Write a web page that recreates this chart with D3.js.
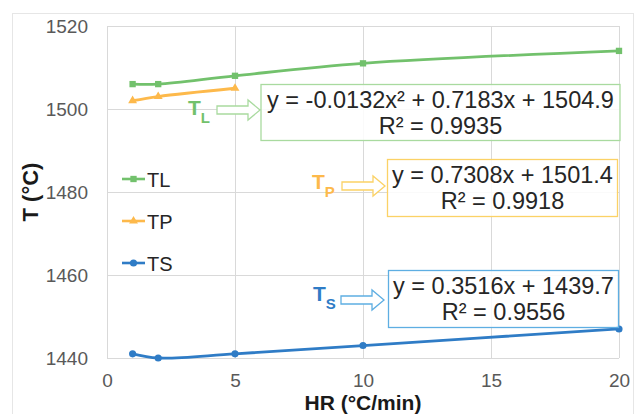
<!DOCTYPE html>
<html>
<head>
<meta charset="utf-8">
<script src="https://cdn.jsdelivr.net/npm/d3@7"></script>
<style>
  body { margin: 0; background: #fff; }
  svg { font-family: "Liberation Sans", Arial, sans-serif; }
</style>
</head>
<body>
<div id="chart"></div>
<script>
// heating rates (°C/min)
const hrAll = [1, 2, 5, 10, 20];
const hrTP = [1, 2, 5];

// temperatures
const tlValues = [1506, 1506, 1508, 1511, 1514];
const tpValues = [1502, 1503, 1505];
const tsValues = [1441, 1440, 1441, 1443, 1447];

const xTicks = [0, 5, 10, 15, 20];
const yTicks = [1440, 1460, 1480, 1500, 1520];

const seriesNames = ['TL', 'TP', 'TS'];
const seriesColors = ['#72c16c', '#fdb94b', '#2f7cc6'];
const boxColors = ['#a9da9f', '#fbd266', '#5eaee2'];

const fits = [
  ['y = -0.0132x² + 0.7183x + 1504.9', 'R² = 0.9935'],
  ['y = 0.7308x + 1501.4', 'R² = 0.9918'],
  ['y = 0.3516x + 1439.7', 'R² = 0.9556'],
];
const fitSubs = ['L', 'P', 'S'];

const width = 634;
const height = 414;
const margin = { top: 26, right: 15, bottom: 56, left: 107 };

const svg = d3
  .select('#chart')
  .append('svg')
  .attr('width', width)
  .attr('height', height);

// chart area frame
svg
  .append('rect')
  .attr('x', 12.5)
  .attr('y', 13.5)
  .attr('width', width - 13)
  .attr('height', height - 13)
  .attr('fill', 'none')
  .attr('stroke', '#e6e6e6');

const x = d3.scaleLinear().domain([0, 20]).range([margin.left, width - margin.right]);
const y = d3.scaleLinear().domain([1440, 1520]).range([height - margin.bottom, margin.top]);

// grid
const grid = svg.append('g').attr('stroke', '#d9d9d9').attr('stroke-width', 1);
grid
  .selectAll('line.h')
  .data(yTicks)
  .enter()
  .append('line')
  .attr('x1', x(0))
  .attr('x2', x(20))
  .attr('y1', (d) => Math.round(y(d)) + 0.5)
  .attr('y2', (d) => Math.round(y(d)) + 0.5);
grid
  .selectAll('line.v')
  .data(xTicks)
  .enter()
  .append('line')
  .attr('y1', y(1520))
  .attr('y2', y(1440))
  .attr('x1', (d) => Math.round(x(d)) + 0.5)
  .attr('x2', (d) => Math.round(x(d)) + 0.5);

// axes (labels only, Excel style)
const xAxis = svg
  .append('g')
  .attr('transform', `translate(0,${y(1440)})`)
  .call(d3.axisBottom(x).tickValues(xTicks).tickSize(0).tickPadding(16));
const yAxis = svg
  .append('g')
  .attr('transform', `translate(${x(0)},0)`)
  .call(d3.axisLeft(y).tickValues(yTicks).tickSize(0).tickPadding(19).tickFormat(d3.format('d')));
[xAxis, yAxis].forEach((a) => {
  a.select('.domain').remove();
  a.selectAll('text')
    .attr('font-family', '"Liberation Sans", Arial, sans-serif')
    .attr('font-size', '19px')
    .attr('fill', '#595959');
});
yAxis.selectAll('text').attr('dy', '0.34em');

// axis titles
svg
  .append('text')
  .attr('x', (x(0) + x(20)) / 2)
  .attr('y', 410)
  .attr('text-anchor', 'middle')
  .attr('font-size', '21px')
  .attr('font-weight', 'bold')
  .attr('fill', '#1a1a1a')
  .text('HR (°C/min)');
svg
  .append('text')
  .attr('transform', `translate(38,${(y(1440) + y(1520)) / 2}) rotate(-90)`)
  .attr('text-anchor', 'middle')
  .attr('font-size', '22px')
  .attr('font-weight', 'bold')
  .attr('fill', '#1a1a1a')
  .text('T (°C)');

// series
const series = [
  { name: seriesNames[0], xs: hrAll, ys: tlValues, color: seriesColors[0], marker: d3.symbolSquare, size: 40 },
  { name: seriesNames[1], xs: hrTP, ys: tpValues, color: seriesColors[1], marker: d3.symbolTriangle, size: 34 },
  { name: seriesNames[2], xs: hrAll, ys: tsValues, color: seriesColors[2], marker: d3.symbolCircle, size: 40 },
];

const line = d3
  .line()
  .x((d) => x(d[0]))
  .y((d) => y(d[1]))
  .curve(d3.curveCatmullRom.alpha(0.5));

series.forEach((s) => {
  const pts = s.xs.map((v, i) => [v, s.ys[i]]);
  const g = svg.append('g');
  g.append('path')
    .datum(pts)
    .attr('d', line)
    .attr('fill', 'none')
    .attr('stroke', s.color)
    .attr('stroke-width', 2.8);
  g.selectAll('path.m')
    .data(pts)
    .enter()
    .append('path')
    .attr('d', d3.symbol().type(s.marker).size(s.size))
    .attr('transform', (d) => `translate(${x(d[0])},${y(d[1])})`)
    .attr('fill', s.color);
});

// legend
const legend = svg.append('g');
const legendRows = [179, 221, 263];
series.forEach((s, i) => {
  const row = legend.append('g').attr('transform', `translate(122,${legendRows[i]})`);
  row.append('line').attr('x1', 0).attr('x2', 23).attr('stroke', s.color).attr('stroke-width', 2.6);
  row.append('path').attr('d', d3.symbol().type(s.marker).size(s.size)).attr('transform', 'translate(11.5,0)').attr('fill', s.color);
  row
    .append('text')
    .attr('x', 25)
    .attr('y', 8)
    .attr('font-size', '20px')
    .attr('fill', '#262626')
    .text(s.name);
});

// trend equation callouts
const boxes = [
  { x: 261, y: 84.5, w: 359, h: 56, label: [188, 115], arrow: [217, 110] },
  { x: 387.5, y: 159.5, w: 230, h: 57, label: [312, 189], arrow: [342, 186] },
  { x: 388.5, y: 270.5, w: 230, h: 57, label: [313, 301], arrow: [341, 300] },
];

boxes.forEach((b, i) => {
  const c = seriesColors[i];
  const bc = boxColors[i];
  const g = svg.append('g');
  g.append('rect')
    .attr('x', b.x)
    .attr('y', b.y)
    .attr('width', b.w)
    .attr('height', b.h)
    .attr('fill', '#fff')
    .attr('fill-opacity', 0.85)
    .attr('stroke', bc)
    .attr('stroke-width', 1.3);
  fits[i].forEach((t, k) => {
    g.append('text')
      .attr('x', b.x + b.w / 2)
      .attr('y', b.y + 23 + k * 26.5)
      .attr('text-anchor', 'middle')
      .attr('font-size', '23.5px')
      .attr('fill', '#262626')
      .text(t);
  });

  // T with subscript
  const lab = g
    .append('text')
    .attr('x', b.label[0])
    .attr('y', b.label[1])
    .attr('font-weight', 'bold')
    .attr('fill', c);
  lab.append('tspan').attr('font-size', '21px').text('T');
  lab.append('tspan').attr('font-size', '15px').attr('dy', 8).text(fitSubs[i]);

  // hollow block arrow
  const ax = b.arrow[0];
  const ay = b.arrow[1];
  const p = d3.path();
  p.moveTo(ax, ay - 4);
  p.lineTo(ax + 31, ay - 4);
  p.lineTo(ax + 31, ay - 10);
  p.lineTo(ax + 43, ay);
  p.lineTo(ax + 31, ay + 10);
  p.lineTo(ax + 31, ay + 4);
  p.lineTo(ax, ay + 4);
  p.closePath();
  g.append('path')
    .attr('d', p.toString())
    .attr('fill', '#fff')
    .attr('stroke', bc)
    .attr('stroke-width', 1.3);
});
</script>
</body>
</html>
